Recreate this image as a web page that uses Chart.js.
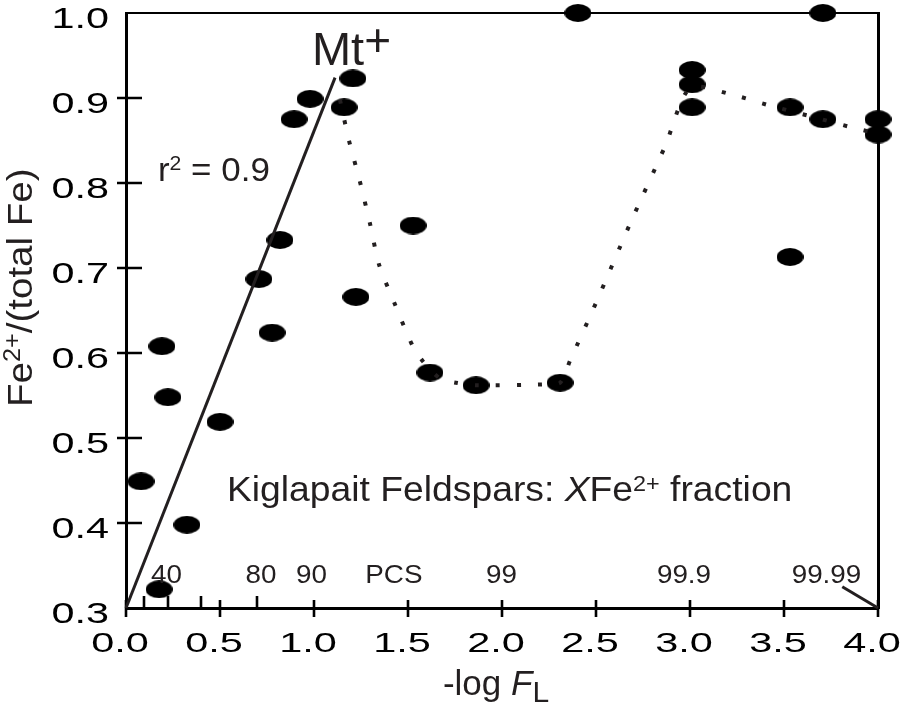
<!DOCTYPE html>
<html>
<head>
<meta charset="utf-8">
<script src="https://cdn.jsdelivr.net/npm/chart.js@4.4.1/dist/chart.umd.min.js"></script>
<style>
html,body{margin:0;padding:0;background:#ffffff;}
#wrap{width:904px;height:705px;}
</style>
</head>
<body>
<div id="wrap"><canvas id="c" width="904" height="705"></canvas></div>
<script>
// ---- axis ticks ----
const xTickValues = [0, 0.5, 1.0, 1.5, 2.0, 2.5, 3.0, 3.5, 4.0];
const xTickLabels = ['0.0', '0.5', '1.0', '1.5', '2.0', '2.5', '3.0', '3.5', '4.0'];
const yTickValues = [0.3, 0.4, 0.5, 0.6, 0.7, 0.8, 0.9, 1.0];
const yTickLabels = ['0.3', '0.4', '0.5', '0.6', '0.7', '0.8', '0.9', '1.0'];
// minor ticks: percent solidified 20, 40, 60, 80
const minorTickX = [0.097, 0.222, 0.398, 0.699];
// percent-solidified labels along the bottom
const pcsLabels = ['40', '80', '90', 'PCS', '99', '99.9', '99.99'];
const pcsLabelX = [0.215, 0.718, 0.987, 1.425, 1.997, 2.968, 3.726];

// ---- feldspar samples ----
const sampleX = [0.080, 0.176, 0.191, 0.223, 0.324, 0.50, 0.707, 0.777, 0.819, 0.894, 0.979,
                 1.16, 1.207, 1.223, 1.527, 1.617, 1.862, 2.309, 2.404,
                 3.011, 3.011, 3.011, 3.532, 3.532, 3.707, 3.707, 4.0, 4.0];
const sampleY = [0.449, 0.322, 0.608, 0.548, 0.398, 0.519, 0.687, 0.624, 0.733, 0.875, 0.899,
                 0.889, 0.923, 0.666, 0.750, 0.577, 0.562, 0.565, 1.0,
                 0.933, 0.916, 0.889, 0.889, 0.713, 0.875, 1.0, 0.875, 0.857];

// ---- regression line (r2 = 0.9) ----
const fitX = [0.0, 1.112];
const fitY = [0.300, 0.924];

// ---- dotted trend ----
const trendX = [1.138, 1.186, 1.245, 1.298, 1.346, 1.431, 1.521, 1.580, 1.670, 1.755, 1.862,
                2.218, 2.309, 2.362, 2.500, 2.681, 2.867, 3.000, 3.207, 3.426, 3.649, 3.867, 4.0];
const trendY = [0.898, 0.850, 0.801, 0.752, 0.704, 0.657, 0.610, 0.590, 0.570, 0.565, 0.562,
                0.563, 0.565, 0.591, 0.659, 0.752, 0.843, 0.912, 0.905, 0.891, 0.878, 0.865, 0.858];

// ---- leader from 99.99 label to 4.0 ----
const leaderX = [3.81, 4.0];
const leaderY = [0.325, 0.300];

const zip = (xs, ys) => xs.map((x, i) => ({x: x, y: ys[i]}));

function makeEllipse(w, h) {
  const c = document.createElement('canvas');
  c.width = w; c.height = h;
  const g = c.getContext('2d');
  g.fillStyle = '#000000';
  g.beginPath();
  g.ellipse(w / 2, h / 2, w / 2, h / 2, 0, 0, Math.PI * 2);
  g.fill();
  return c;
}
const ellipse = makeEllipse(27, 18);

const FONT = '"Liberation Sans", Arial, Helvetica, sans-serif';
const INK = '#231f20';

function richWidth(ctx, parts) {
  let w = 0;
  for (const p of parts) { ctx.font = p.font; w += ctx.measureText(p.text).width; }
  return w;
}
function drawRich(ctx, x, y, parts, opts) {
  const o = Object.assign({sx: 1, align: 'left', rot: 0, color: INK}, opts || {});
  ctx.save();
  ctx.translate(x, y);
  if (o.rot) ctx.rotate(o.rot);
  ctx.scale(o.sx, 1);
  const w = richWidth(ctx, parts);
  let cx = o.align === 'center' ? -w / 2 : (o.align === 'right' ? -w : 0);
  ctx.textAlign = 'left';
  ctx.textBaseline = 'alphabetic';
  ctx.fillStyle = o.color;
  for (const p of parts) {
    ctx.font = p.font;
    ctx.fillText(p.text, cx, p.dy || 0);
    cx += ctx.measureText(p.text).width;
  }
  ctx.restore();
}

const framePlugin = {
  id: 'frameDecor',
  beforeDatasetsDraw(chart) {
    const ctx = chart.ctx, xs = chart.scales.x, ys = chart.scales.y;
    const a = chart.chartArea;
    ctx.save();
    ctx.strokeStyle = '#000000';
    ctx.lineWidth = 2.6;
    ctx.lineCap = 'butt';
    ctx.beginPath();
    xTickValues.forEach(v => {
      const px = Math.round(xs.getPixelForValue(v));
      ctx.moveTo(px, a.bottom - 8); ctx.lineTo(px, a.bottom + 9);
    });
    minorTickX.forEach(v => {
      const px = Math.round(xs.getPixelForValue(v));
      ctx.moveTo(px, a.bottom - 12); ctx.lineTo(px, a.bottom);
    });
    yTickValues.forEach(v => {
      if (v <= 0.3 || v >= 1.0) return;
      const py = Math.round(ys.getPixelForValue(v));
      ctx.moveTo(a.left - 9, py); ctx.lineTo(a.left + 16, py);
    });
    ctx.stroke();
    ctx.restore();
  },
  afterDraw(chart) {
    const ctx = chart.ctx, xs = chart.scales.x, ys = chart.scales.y;
    const a = chart.chartArea;
    // tick labels
    yTickValues.forEach((v, i) => {
      const py = ys.getPixelForValue(v);
      drawRich(ctx, a.left - 17, py + 15, [{text: yTickLabels[i], font: '30px ' + FONT}],
               {sx: 1.38, align: 'right', color: '#000000'});
    });
    xTickValues.forEach((v, i) => {
      const px = xs.getPixelForValue(v);
      drawRich(ctx, px - 6, a.bottom + 44, [{text: xTickLabels[i], font: '28px ' + FONT}],
               {sx: 1.48, align: 'center', color: '#000000'});
    });
    // percent solidified labels
    pcsLabels.forEach((t, i) => {
      const px = xs.getPixelForValue(pcsLabelX[i]);
      drawRich(ctx, px, a.bottom - 25, [{text: t, font: '26px ' + FONT}],
               {sx: 1.07, align: 'center'});
    });
    // axis titles
    drawRich(ctx, 32, 407, [
      {text: 'Fe', font: '35px ' + FONT},
      {text: '2+', font: '23px ' + FONT, dy: -12},
      {text: '/(total Fe)', font: '35px ' + FONT}
    ], {sx: 1.1, rot: -Math.PI / 2});
    drawRich(ctx, (a.left + a.right) / 2 - 6, a.bottom + 87, [
      {text: '-log ', font: '35px ' + FONT},
      {text: 'F', font: 'italic 35px ' + FONT},
      {text: 'L', font: '30px ' + FONT, dy: 7}
    ], {sx: 1.0, align: 'center'});
    // annotations (anchored in data units)
    drawRich(ctx, xs.getPixelForValue(0.989), ys.getPixelForValue(0.939), [
      {text: 'Mt', font: '47px ' + FONT},
      {text: '+', font: '46px ' + FONT, dy: -9}
    ]);
    drawRich(ctx, xs.getPixelForValue(0.170), ys.getPixelForValue(0.802), [
      {text: 'r', font: '33px ' + FONT},
      {text: '2', font: '20px ' + FONT, dy: -11},
      {text: ' = 0.9', font: '33px ' + FONT}
    ], {sx: 1.06});
    drawRich(ctx, xs.getPixelForValue(0.537), ys.getPixelForValue(0.4264), [
      {text: 'Kiglapait Feldspars: ', font: '35px ' + FONT},
      {text: 'X', font: 'italic 35px ' + FONT},
      {text: 'Fe', font: '35px ' + FONT},
      {text: '2+', font: '22px ' + FONT, dy: -10},
      {text: ' fraction', font: '35px ' + FONT}
    ], {sx: 1.065});
  }
};

const noPad = s => { s.paddingLeft = 0; s.paddingRight = 0; s.paddingTop = 0; s.paddingBottom = 0; };

new Chart(document.getElementById('c'), {
  type: 'scatter',
  data: {
    datasets: [
      {
        label: 'trend',
        data: zip(trendX, trendY),
        showLine: true,
        borderColor: INK,
        borderWidth: 4,
        borderDash: [4, 17],
        borderCapStyle: 'butt',
        tension: 0.25,
        pointRadius: 0,
        clip: false
      },
      {
        label: 'fit',
        data: zip(fitX, fitY),
        showLine: true,
        borderColor: INK,
        borderWidth: 3,
        pointRadius: 0,
        clip: false
      },
      {
        label: 'leader',
        data: zip(leaderX, leaderY),
        showLine: true,
        borderColor: INK,
        borderWidth: 3,
        pointRadius: 0,
        clip: false
      },
      {
        label: 'samples',
        data: zip(sampleX, sampleY),
        showLine: false,
        pointStyle: ellipse,
        pointRadius: 12,
        clip: false
      }
    ]
  },
  options: {
    responsive: false,
    animation: false,
    events: [],
    layout: {padding: 0},
    plugins: {legend: {display: false}, tooltip: {enabled: false}},
    scales: {
      x: {
        type: 'linear', position: 'bottom', min: 0, max: 4,
        grid: {display: false, drawTicks: false},
        ticks: {display: false},
        border: {display: true, width: 3, color: '#000000'},
        afterBuildTicks: s => { s.ticks = xTickValues.map(v => ({value: v})); },
        afterFit: s => { s.height = 97; noPad(s); }
      },
      y: {
        type: 'linear', position: 'left', min: 0.3, max: 1.0,
        grid: {display: false, drawTicks: false},
        ticks: {display: false},
        border: {display: true, width: 3, color: '#000000'},
        afterBuildTicks: s => { s.ticks = yTickValues.map(v => ({value: v})); },
        afterFit: s => { s.width = 126; noPad(s); }
      },
      xTop: {
        type: 'linear', position: 'top', min: 0, max: 4,
        grid: {display: false, drawTicks: false},
        ticks: {display: false},
        border: {display: true, width: 2, color: '#000000'},
        afterFit: s => { s.height = 10; noPad(s); }
      },
      yRight: {
        type: 'linear', position: 'right', min: 0.3, max: 1.0,
        grid: {display: false, drawTicks: false},
        ticks: {display: false},
        border: {display: true, width: 3, color: '#000000'},
        afterFit: s => { s.width = 26; noPad(s); }
      }
    }
  },
  plugins: [framePlugin]
});
</script>
</body>
</html>
